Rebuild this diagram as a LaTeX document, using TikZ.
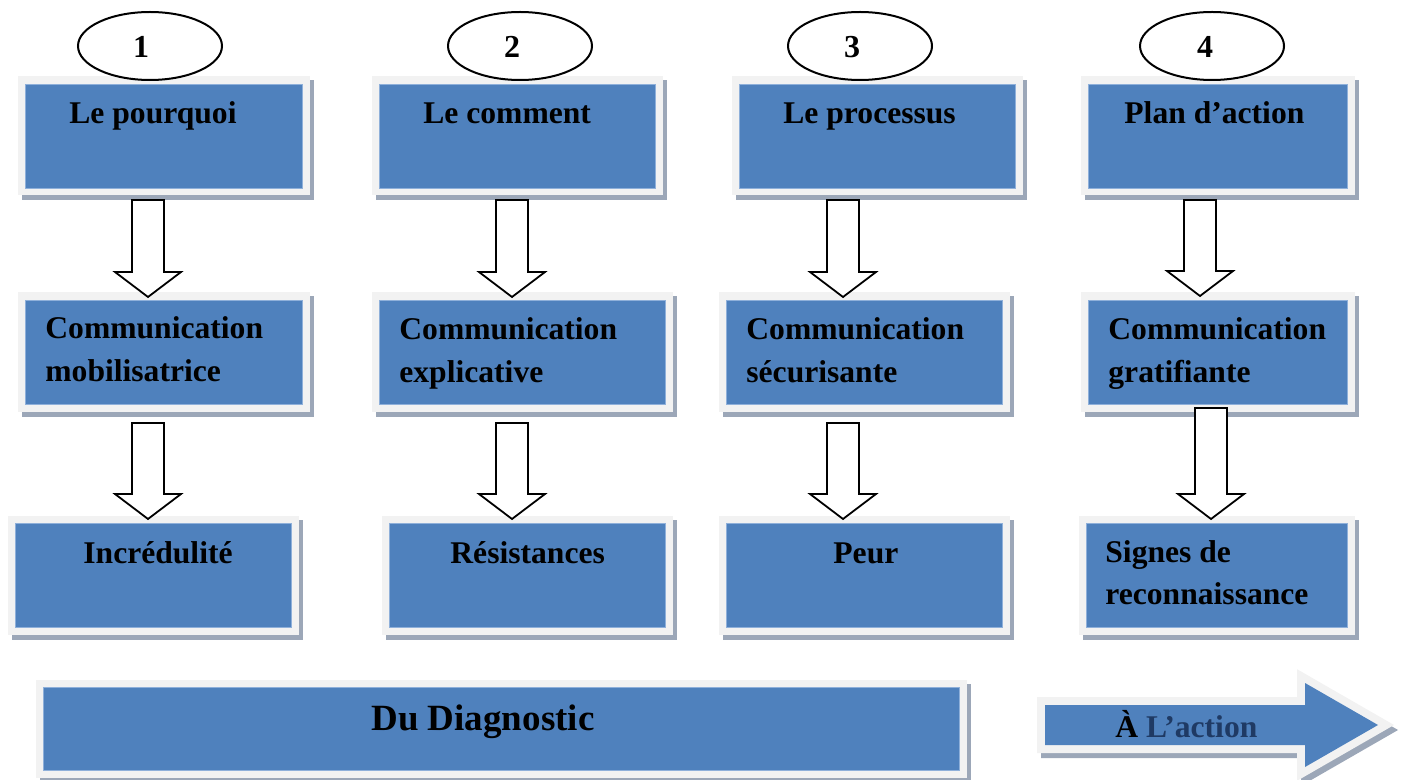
\documentclass[tikz,border=0pt]{standalone}
\usepackage{fontspec}
\setmainfont{Liberation Serif}
\usetikzlibrary{calc,fit,shapes.geometric}
\definecolor{boxblue}{HTML}{4F81BD}
\definecolor{boxframe}{HTML}{F2F2F2}
\definecolor{boxshadow}{HTML}{9CA7B8}
\definecolor{boxedge}{HTML}{8FB0DA}
\definecolor{darkblue}{HTML}{1F3A64}
\tikzset{
  panelbox/.style={fill=boxblue, draw=boxedge, line width=0.4pt, inner sep=0pt},
  lbl/.style={font=\fontsize{15.8pt}{21pt}\selectfont\bfseries, inner sep=0pt},
  biglbl/.style={font=\fontsize{18.5pt}{22pt}\selectfont\bfseries, inner sep=0pt},
  numell/.style={ellipse, draw=black, line width=1pt, fill=white, minimum width=72pt, minimum height=34pt, inner sep=0pt},
  numlbl/.style={font=\fontsize{16pt}{19pt}\selectfont\bfseries, inner sep=0pt},
  blockarr/.style={draw=black, fill=white, line width=0.9pt, line join=miter}
}
% name, x1, y1, x2, y2 of the blue area (pixels)
\newcommand\panel[5]{%
  \fill[boxshadow] (#2-3.5,#3-3.5) rectangle (#4+12,#5+12.5);
  \fill[boxframe] (#2-7.5,#3-7.5) rectangle (#4+7.5,#5+7.5);
  \coordinate (#1-nw) at (#2,#3);
  \coordinate (#1-se) at (#4,#5);
  \node[panelbox, fit=(#1-nw)(#1-se)] (#1) {};
}
\newcommand\blockarrow[2]{%
  \draw[blockarr] let \p1=(#1), \p2=(#2) in
    (\x1-8pt,\y1) -- (\x1+8pt,\y1) -- (\x1+8pt,\y2+12.5pt) -- (\x1+16.5pt,\y2+12.5pt)
    -- (\x1,\y2) -- (\x1-16.5pt,\y2+12.5pt) -- (\x1-8pt,\y2+12.5pt) -- cycle;
}
\begin{document}
\begin{tikzpicture}[x=0.5pt, y=-0.5pt]
\useasboundingbox (0,0) rectangle (1401,780);

% top row
\panel{t1}{25}{84}{302}{188}
\panel{t2}{379}{84}{655}{188}
\panel{t3}{739}{84}{1015}{188}
\panel{t4}{1088}{84}{1347}{188}
% middle row
\panel{m1}{25}{300}{302}{404}
\panel{m2}{379}{300}{665}{404}
\panel{m3}{726}{300}{1002}{404}
\panel{m4}{1088}{300}{1347}{404}
% bottom row
\panel{b1}{15}{523}{291}{627}
\panel{b2}{389}{523}{665}{627}
\panel{b3}{726}{523}{1002}{627}
\panel{b4}{1086}{523}{1347}{627}
% diagnostic bar
\panel{diag}{43}{687}{959}{770}

% action arrow
\coordinate (act-tip) at (1378,725);
\filldraw[boxshadow, line width=8pt, line join=miter]
  (1049,710) -- (1309,710) -- (1309,688) -- (1382,730) -- (1309,772) -- (1309,750) -- (1049,750) -- cycle;
\filldraw[boxframe, line width=8pt, line join=miter]
  (1045,705) -- (1305,705) -- (1305,683) -- (act-tip) -- (1305,767) -- (1305,745) -- (1045,745) -- cycle;
\fill[boxblue]
  (1045,705) -- (1305,705) -- (1305,683) -- (act-tip) -- (1305,767) -- (1305,745) -- (1045,745) -- cycle;

% texts
\node[lbl, anchor=base west] (t1txt) at (69,124) {Le pourquoi};
\node[lbl, anchor=base west] (t2txt) at (423,124) {Le comment};
\node[lbl, anchor=base west] (t3txt) at (783,124) {Le processus};
\node[lbl, anchor=base west] (t4txt) at (1124,124) {Plan d’action};

\node[lbl, anchor=base west] (m1txt) at (45,339) {\vtop{\hbox{Communication}\hbox{mobilisatrice}}};
\node[lbl, anchor=base west] (m2txt) at (399,340) {\vtop{\hbox{Communication}\hbox{explicative}}};
\node[lbl, anchor=base west] (m3txt) at (746,340) {\vtop{\hbox{Communication}\hbox{sécurisante}}};
\node[lbl, anchor=base west] (m4txt) at (1108,340) {\vtop{\hbox{Communication}\hbox{gratifiante}}};

\node[lbl, anchor=base west] (b1txt) at (83,563) {Incrédulité};
\node[lbl, anchor=base west] (b2txt) at (450,563) {Résistances};
\node[lbl, anchor=base west] (b3txt) at (833,563) {Peur};
\node[lbl, anchor=base west] (b4txt) at (1105,562) {\vtop{\hbox{Signes de}\hbox{reconnaissance}}};

\node[biglbl, anchor=base west] (diagtxt) at (371,730) {Du Diagnostic};
\node[lbl, anchor=base west] (acttxt) at (1115,737) {À \textcolor{darkblue}{L’action}};

% block arrows
\coordinate (a1s) at (148,200); \coordinate (a1e) at (148,297);
\coordinate (a2s) at (512,200); \coordinate (a2e) at (512,297);
\coordinate (a3s) at (843,200); \coordinate (a3e) at (843,297);
\coordinate (a4s) at (1200,200); \coordinate (a4e) at (1200,296);
\coordinate (c1s) at (148,423); \coordinate (c1e) at (148,519);
\coordinate (c2s) at (512,423); \coordinate (c2e) at (512,519);
\coordinate (c3s) at (843,423); \coordinate (c3e) at (843,519);
\coordinate (c4s) at (1211,408); \coordinate (c4e) at (1211,519);
\blockarrow{a1s}{a1e}
\blockarrow{a2s}{a2e}
\blockarrow{a3s}{a3e}
\blockarrow{a4s}{a4e}
\blockarrow{c1s}{c1e}
\blockarrow{c2s}{c2e}
\blockarrow{c3s}{c3e}
\blockarrow{c4s}{c4e}

% numbered ellipses
\node[numell] (e1) at (150,46) {};
\node[numell] (e2) at (520,46) {};
\node[numell] (e3) at (860,46) {};
\node[numell] (e4) at (1212,46) {};
\node[numlbl, anchor=base] (n1) at (141,58) {1};
\node[numlbl, anchor=base] (n2) at (512,58) {2};
\node[numlbl, anchor=base] (n3) at (852,58) {3};
\node[numlbl, anchor=base] (n4) at (1205,58) {4};
\end{tikzpicture}
\end{document}
